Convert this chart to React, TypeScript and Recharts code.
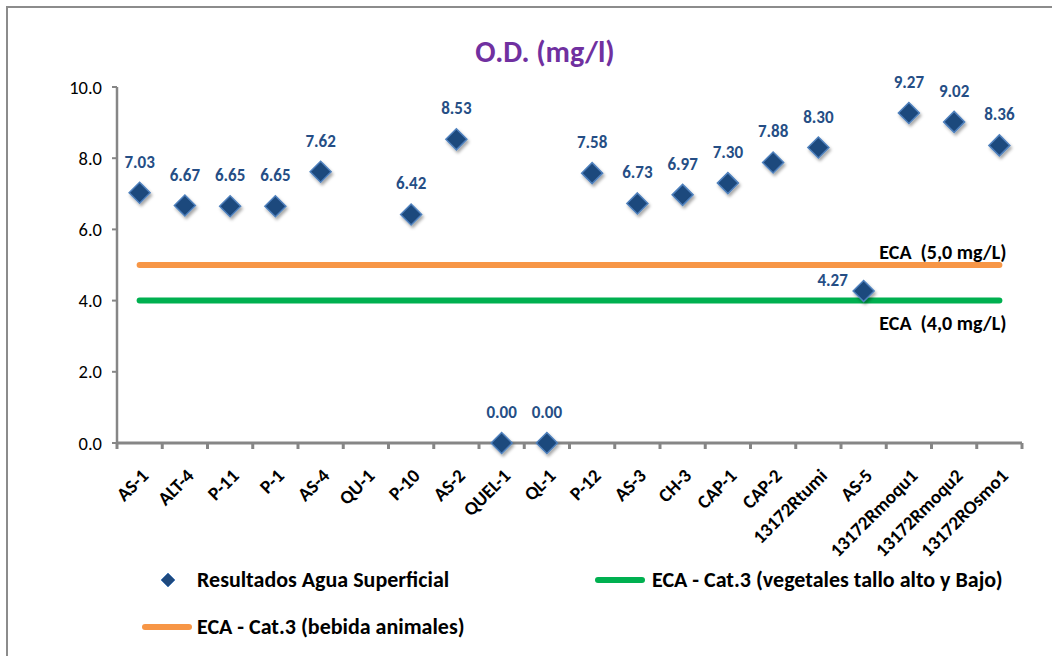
import React from "react";
import {
  ComposedChart,
  Line,
  XAxis,
  YAxis,
  LabelList,
} from "recharts";

const stations = [
  "AS-1", "ALT-4", "P-11", "P-1", "AS-4", "QU-1", "P-10", "AS-2", "QUEL-1", "QL-1",
  "P-12", "AS-3", "CH-3", "CAP-1", "CAP-2", "13172Rtumi", "AS-5", "13172Rmoqu1", "13172Rmoqu2", "13172ROsmo1",
];

const odValues: (number | null)[] = [
  7.03, 6.67, 6.65, 6.65, 7.62, null, 6.42, 8.53, 0.0, 0.0,
  7.58, 6.73, 6.97, 7.3, 7.88, 8.3, 4.27, 9.27, 9.02, 8.36,
];

const ecaBebida = 5.0;
const ecaVegetales = 4.0;
const yTicks = [0, 2, 4, 6, 8, 10];

const data = stations.map((name, i) => ({
  name,
  od: odValues[i],
  bebida: ecaBebida,
  vegetales: ecaVegetales,
}));

const FONT = "Carlito, Lato, 'DejaVu Sans', sans-serif";
const AXIS_GRAY = "#868686";
const NAVY = "#1F497D";
const LABEL_BLUE = "#254E85";

const Diamond = (props: any) => {
  const { cx, cy, value } = props;
  if (value == null || cx == null || cy == null) return null;
  const r = 10.5;
  return (
    <path
      d={`M${cx},${cy - r} L${cx + r},${cy} L${cx},${cy + r} L${cx - r},${cy} Z`}
      fill={NAVY}
      stroke="#4F81BD"
      strokeWidth={1.5}
      filter="url(#shadow)"
    />
  );
};

const ValueLabel = (props: any) => {
  const { x, y, value, index } = props;
  if (value == null) return null;
  // AS-5 sits right on the limit lines, its label goes to the left
  const left = stations[index] === "AS-5";
  return (
    <text
      x={left ? x - 31 : x}
      y={left ? y - 5 : y - 25}
      textAnchor="middle"
      fill={LABEL_BLUE}
      fontFamily={FONT}
      fontWeight="bold"
      fontSize={17}
    >
      {value.toFixed(2)}
    </text>
  );
};

const limitLabel = (text: string, dy: number) => (props: any) => {
  const { x, y, index } = props;
  if (index !== stations.length - 1) return null;
  return (
    <text
      x={x + 7}
      y={y + dy}
      textAnchor="end"
      fill="#000"
      fontFamily={FONT}
      fontWeight="bold"
      fontSize={20}
      style={{ whiteSpace: "pre" }}
    >
      {text}
    </text>
  );
};

// category label plus the tick marks on the band edges
const StationTick = (props: any) => {
  const { x, y, payload, index } = props;
  const half = payload && payload.offset ? payload.offset : 22.65;
  const last = index === stations.length - 1;
  const ax = x + 10;
  const ay = y + 34;
  return (
    <g>
      <line x1={x - half} x2={x - half} y1={y} y2={y + 6} stroke={AXIS_GRAY} strokeWidth={3} />
      {last && <line x1={x + half} x2={x + half} y1={y} y2={y + 6} stroke={AXIS_GRAY} strokeWidth={3} />}
      <text
        x={ax}
        y={ay}
        textAnchor="end"
        transform={`rotate(-45 ${ax} ${ay})`}
        fill="#000"
        fontFamily={FONT}
        fontWeight="bold"
        fontSize={19}
      >
        {payload.value}
      </text>
    </g>
  );
};

const LegendDiamond = () => (
  <svg width={16} height={16}>
    <path d="M8,1 L15,8 L8,15 L1,8 Z" fill={NAVY} stroke="#4F81BD" strokeWidth={1} />
  </svg>
);

const legendText: React.CSSProperties = {
  fontFamily: FONT,
  fontWeight: "bold",
  fontSize: 22,
  color: "#000",
  whiteSpace: "nowrap",
  lineHeight: "26px",
};

export default function App() {
  return (
    <div style={{ position: "absolute", left: 0, top: 0, width: 1052, height: 656, overflow: "hidden", background: "#fff" }}>
      <div
        style={{
          position: "absolute",
          left: 6,
          top: 6,
          width: 1060,
          height: 670,
          border: "2px solid #8c8c8c",
          boxSizing: "border-box",
        }}
      />
      <div
        style={{
          position: "absolute",
          left: 475,
          width: 140,
          top: 33,
          textAlign: "center",
          fontFamily: FONT,
          fontWeight: "bold",
          fontSize: 30,
          lineHeight: "38px",
          color: "#7030A0",
          whiteSpace: "nowrap",
        }}
      >
        O.D. (mg/l)
      </div>
      <div style={{ position: "absolute", left: 0, top: 0 }}>
        <ComposedChart
          width={1052}
          height={656}
          data={data}
          margin={{ top: 87, right: 30, left: 57, bottom: 113 }}
        >
          <defs>
            <filter id="shadow" x="-50%" y="-50%" width="200%" height="200%">
              <feDropShadow dx="1.5" dy="2.5" stdDeviation="1.8" floodColor="#000" floodOpacity="0.35" />
            </filter>
          </defs>
          <XAxis
            dataKey="name"
            type="category"
            scale="band"
            interval={0}
            height={100}
            tickSize={0}
            tickMargin={0}
            axisLine={{ stroke: AXIS_GRAY, strokeWidth: 3 }}
            tickLine={false}
            tick={<StationTick />}
          />
          <YAxis
            domain={[0, 10]}
            ticks={yTicks}
            width={60}
            tickFormatter={(v: number) => v.toFixed(1)}
            tick={{ fill: "#000", fontSize: 18.5, fontFamily: FONT }}
            axisLine={{ stroke: AXIS_GRAY, strokeWidth: 2.5 }}
            tickLine={{ stroke: AXIS_GRAY, strokeWidth: 2 }}
            tickSize={5}
            tickMargin={10}
          />
          <Line
            dataKey="bebida"
            stroke="#F79646"
            strokeWidth={6}
            strokeLinecap="round"
            dot={false}
            activeDot={false}
            isAnimationActive={false}
          >
            <LabelList dataKey="bebida" content={limitLabel("ECA  (5,0 mg/L)", -6)} />
          </Line>
          <Line
            dataKey="vegetales"
            stroke="#00B050"
            strokeWidth={6}
            strokeLinecap="round"
            dot={false}
            activeDot={false}
            isAnimationActive={false}
          >
            <LabelList dataKey="vegetales" content={limitLabel("ECA  (4,0 mg/L)", 29)} />
          </Line>
          <Line
            dataKey="od"
            stroke="none"
            dot={<Diamond />}
            activeDot={false}
            isAnimationActive={false}
          >
            <LabelList dataKey="od" content={<ValueLabel />} />
          </Line>
        </ComposedChart>
      </div>
      {/* legend */}
      <div style={{ position: "absolute", left: 160, top: 567, display: "flex", alignItems: "center" }}>
        <LegendDiamond />
        <span style={{ ...legendText, marginLeft: 21 }}>Resultados Agua Superficial</span>
      </div>
      <div style={{ position: "absolute", left: 595, top: 567, display: "flex", alignItems: "center" }}>
        <div style={{ width: 50, height: 6, borderRadius: 3, background: "#00B050" }} />
        <span style={{ ...legendText, marginLeft: 7 }}>ECA - Cat.3 (vegetales tallo alto y Bajo)</span>
      </div>
      <div style={{ position: "absolute", left: 142, top: 614, display: "flex", alignItems: "center" }}>
        <div style={{ width: 50, height: 6, borderRadius: 3, background: "#F79646" }} />
        <span style={{ ...legendText, marginLeft: 5 }}>ECA - Cat.3 (bebida animales)</span>
      </div>
    </div>
  );
}
